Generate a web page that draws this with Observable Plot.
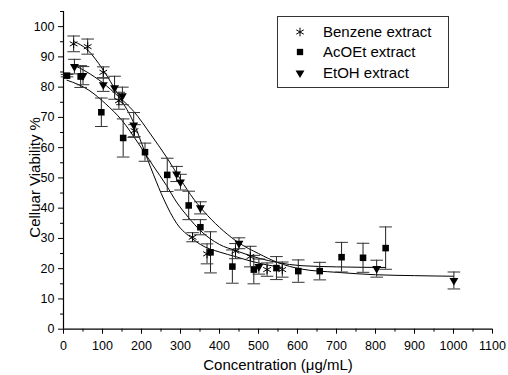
<!DOCTYPE html>
<html><head><meta charset="utf-8">
<script src="https://cdn.jsdelivr.net/npm/d3@7"></script>
<script src="https://cdn.jsdelivr.net/npm/@observablehq/plot@0.6"></script>
<style>
body{margin:0;background:#fff;font-family:"Liberation Sans",Arial,sans-serif;}
#wrap{position:relative;width:508px;height:375px;}
#legend{position:absolute;left:277px;top:16px;width:170px;height:70px;border:1px solid #333;background:#fff;font-size:15px;}
.row{position:absolute;left:0;height:20px;line-height:20px;}
.row svg{position:absolute;left:16px;top:4px;}
.row span{position:absolute;left:45px;top:0;white-space:nowrap;color:#000;}
</style></head>
<body><div id="wrap"></div>
<script>
// ---- data ----
const xTicks = [0,100,200,300,400,500,600,700,800,900,1000,1100];
const xMinor = [50,150,250,350,450,550,650,750,850,950,1050];
const yTicks = [0,10,20,30,40,50,60,70,80,90,100];
const yMinor = [5,15,25,35,45,55,65,75,85,95,105];

const seriesNames = ["Benzene extract","AcOEt extract","EtOH extract"];

const benzeneX = [26, 62, 102, 142, 182, 331, 368, 441, 479, 522, 561];
const benzeneY = [94.3, 93.4, 84.9, 75.5, 65.6, 30.4, 24.9, 25.8, 24.0, 19.7, 19.7];
const benzeneErr = [2.6, 2.5, 1.8, 2.8, 2.0, 1.5, 3.3, 2.5, 3.4, 2.2, 2.5];

const acoetX = [9, 44, 97, 153, 209, 266, 321, 351, 377, 433, 488, 546, 602, 657, 713, 768, 826];
const acoetY = [83.8, 83.5, 71.7, 63.2, 58.5, 51.0, 40.9, 33.7, 25.4, 20.7, 19.7, 20.2, 19.2, 19.2, 23.8, 23.6, 26.8];
const acoetErr = [0.4, 3.6, 4.7, 6.3, 3.0, 5.5, 4.7, 2.5, 6.8, 5.5, 4.7, 3.8, 3.7, 2.9, 4.9, 4.8, 7.0];

const etohX = [28, 50, 102, 131, 151, 180, 290, 300, 351, 450, 501, 803, 1001];
const etohY = [86.8, 83.8, 80.8, 79.8, 77.1, 67.5, 51.3, 48.6, 40.1, 28.4, 20.7, 20.0, 16.1];
const etohErr = [2.4, 3.0, 2.2, 3.8, 2.9, 4.1, 2.5, 2.6, 2.0, 1.8, 2.5, 2.8, 2.8];

// fitted curves, points
const benzeneFitX = [28, 60, 100, 140, 185, 200, 231, 257, 290, 330, 351, 400, 441, 480, 520, 561];
const benzeneFitY = [95, 92.5, 86, 77.5, 66.7, 61.5, 51, 43, 35, 30, 28, 25.5, 24, 22.5, 21.3, 20.4];
const acoetFitX = [9, 65, 108, 150, 193, 230, 264, 290, 320, 351, 400, 441, 500, 550, 609, 700, 826];
const acoetFitY = [82.3, 79, 74.5, 69, 61.2, 54, 47.5, 42, 37, 32.6, 28, 26, 23.5, 22, 21, 20.6, 20.4];
const etohFitX = [31, 60, 100, 140, 180, 223, 266, 300, 334, 370, 410, 450, 500, 550, 609, 700, 800, 900, 1000];
const etohFitY = [87, 85, 81.5, 77, 72, 64.5, 56.5, 49.5, 43, 37.5, 32.5, 28.5, 25, 22, 19.9, 18.8, 18, 17.7, 17.5];

// ---- build tables ----
const pts = (xs, ys, es, s) => xs.map((x,i)=>({x, y: ys[i], e: es[i], s}));
const benz = pts(benzeneX, benzeneY, benzeneErr, seriesNames[0]);
const acoet = pts(acoetX, acoetY, acoetErr, seriesNames[1]);
const etoh = pts(etohX, etohY, etohErr, seriesNames[2]);
const allPts = [...benz, ...acoet, ...etoh];
const fit = (xs, ys, s) => xs.map((x,i)=>({x, y: ys[i], s}));
const fits = [...fit(benzeneFitX, benzeneFitY, "b"), ...fit(acoetFitX, acoetFitY, "a"), ...fit(etohFitX, etohFitY, "e")];

const cap = {draw(ctx){ ctx.moveTo(-6.3,0); ctx.lineTo(6.3,0); }};

const font = "Liberation Sans, Arial, sans-serif";
const fmt = d => String(d);
const chart = Plot.plot({
  width: 508, height: 375,
  marginLeft: 63, marginRight: 16, marginTop: 11, marginBottom: 46.3,
  style: {fontFamily: font, fontSize: "12px", color: "#000", background: "#fff"},
  x: {domain: [0, 1100]},
  y: {domain: [0, 105]},
  marks: [
    Plot.axisX(xTicks, {tickSize: 5, tickPadding: 7, fontSize: 12.5, tickFormat: fmt, label: null, stroke: "#000"}),
    Plot.axisX(xMinor, {tickSize: 3, text: null, label: null, stroke: "#000"}),
    Plot.axisY(yTicks, {tickSize: 5, tickPadding: 4, fontSize: 12.5, tickFormat: fmt, label: null, stroke: "#000"}),
    Plot.axisY(yMinor, {tickSize: 3, text: null, label: null, stroke: "#000"}),
    Plot.ruleY([0], {x1: 0, x2: 1100, stroke: "#000", strokeWidth: 1.2}),
    Plot.ruleX([0], {y1: 0, y2: 105, stroke: "#000", strokeWidth: 1.2}),
    Plot.line(fits, {x: "x", y: "y", z: "s", stroke: "#000", strokeWidth: 1, curve: "monotone-x"}),
    Plot.ruleX(allPts, {x: "x", y1: d => d.y - d.e, y2: d => d.y + d.e, stroke: "#222", strokeWidth: 1}),
    Plot.dot(allPts, {x: "x", y: d => d.y + d.e, symbol: cap, stroke: "#333", strokeWidth: 1, r: 3}),
    Plot.dot(allPts, {x: "x", y: d => d.y - d.e, symbol: cap, stroke: "#333", strokeWidth: 1, r: 3}),
    Plot.dot(benz, {x: "x", y: "y", symbol: "asterisk", stroke: "#000", strokeWidth: 1, r: 4.2}),
    Plot.dot(acoet, {x: "x", y: "y", symbol: "square", fill: "#000", stroke: "none", r: 3.7}),
    Plot.dot(etoh, {x: "x", y: "y", symbol: "triangle", rotate: 180, fill: "#000", stroke: "none", r: 3.3}),
    Plot.text(["Concentration (\u03bcg/mL)"], {frameAnchor: "bottom", dy: 36, lineAnchor: "middle", fontSize: 15, fill: "#000"}),
    Plot.text(["Celluar Viability %"], {frameAnchor: "left", dx: -28, dy: 7, rotate: -90, lineAnchor: "middle", textAnchor: "middle", fontSize: 15, fill: "#000"})
  ]
});
const wrap = document.getElementById("wrap");
wrap.appendChild(chart);

// legend
const legend = document.createElement("div");
legend.id = "legend";
const sym = {
  "Benzene extract": d3.symbol(d3.symbolAsterisk, 52)(),
  "AcOEt extract": d3.symbol(d3.symbolSquare, 40)(),
  "EtOH extract": d3.symbol(d3.symbolTriangle, 34)()
};
seriesNames.forEach((name, i) => {
  const row = document.createElement("div");
  row.className = "row";
  row.style.top = (5 + i * 20.3) + "px";
  const filled = i > 0;
  const rot = i === 2 ? ' transform="rotate(180)"' : '';
  row.innerHTML = `<svg width="12" height="12" viewBox="-6 -6 12 12"><path d="${sym[name]}"${rot} fill="${filled ? '#000' : 'none'}" stroke="${filled ? 'none' : '#000'}" stroke-width="1"/></svg><span>${name}</span>`;
  legend.appendChild(row);
});
wrap.appendChild(legend);
</script>
</body></html>
